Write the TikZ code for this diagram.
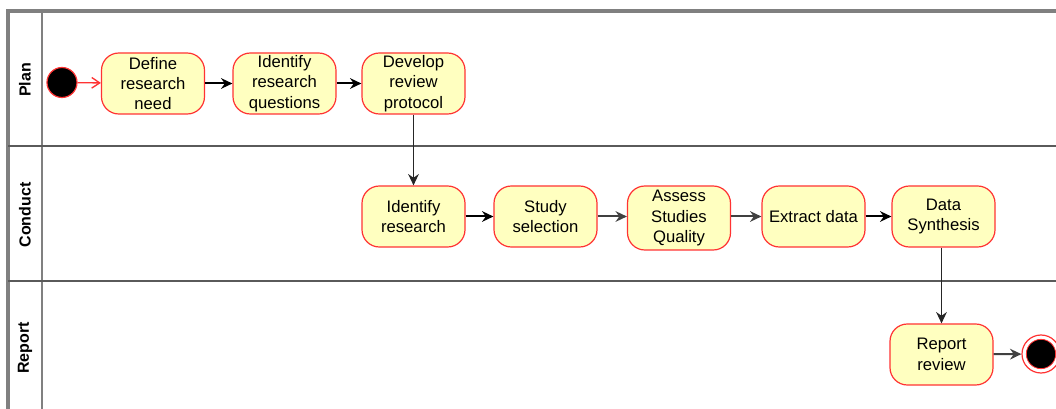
\documentclass[tikz,border=0pt]{standalone}
\usepackage{fontspec}
\setmainfont{Liberation Sans}
\usetikzlibrary{arrows.meta}
\definecolor{actfill}{HTML}{FFFFC0}
\definecolor{actline}{HTML}{FF3333}
\definecolor{lanegray}{HTML}{808080}
\definecolor{lanedark}{HTML}{5A5A5A}
\begin{document}
\begin{tikzpicture}[x=0.75pt,y=-0.75pt,
  act/.style={draw=actline,fill=actfill,line width=0.9pt,rounded corners=13pt,
    minimum width=77.25pt,minimum height=45.75pt,inner sep=1pt,align=center,
    font=\fontsize{12.5}{15.3}\selectfont},
  flow/.style={-{Stealth[length=8.5pt,width=8pt]},line width=1.5pt,black},
  flowg/.style={-{Stealth[length=8.5pt,width=8pt]},line width=1.5pt,black!75},
  flowv/.style={-{Stealth[length=8.5pt,width=8pt]},line width=1pt,black!85},
  lane/.style={font=\bfseries\fontsize{12}{14}\selectfont,rotate=90},
  border/.style={lanegray,line width=2.6pt},
  divider/.style={lanedark,line width=2.2pt},
  header/.style={lanegray,line width=1.6pt}]
\useasboundingbox (0,0) rectangle (1056,409);
% swimlanes
\draw[border] (8,409) -- (8,11) -- (1056,11);
\draw[header] (42,11) -- (42,409);
\draw[divider] (8,146) -- (1056,146);
\draw[divider] (8,281) -- (1056,281);
\node[lane] (lplan) at (25,80) {Plan};
\node[lane] (lcond) at (25,215) {Conduct};
\node[lane] (lrep) at (25,348) {Report};
% start
\node[circle,draw=actline,fill=black,line width=0.9pt,minimum size=22.5pt,inner sep=0pt] (start) at (62,82.5) {};
% activities
\node[act] (define) at (153,83.5) {Define\\research\\need};
\node[act] (ident) at (284.5,83.5) {Identify\\research\\questions};
\node[act] (develop) at (413.5,83.5) {Develop\\review\\protocol};
\node[act] (idres) at (413.5,216.5) {Identify\\research};
\node[act] (study) at (545.5,216.5) {Study\\selection};
\node[act,minimum height=48pt] (assess) at (679,218) {Assess\\Studies\\Quality};
\node[act] (extract) at (813.5,216.5) {Extract data};
\node[act] (synth) at (943.5,216.5) {Data\\Synthesis};
\node[act] (report) at (941.5,354.5) {Report\\review};
% end
\node[circle,draw=actline,fill=white,line width=0.9pt,minimum size=28.5pt,inner sep=0pt] (endo) at (1041,354) {};
\node[circle,draw=actline,fill=black,line width=0.6pt,minimum size=22pt,inner sep=0pt] (endi) at (endo.center) {};
% flows
\draw[actline,line width=1pt,-{Straight Barb[length=6pt,width=8pt]}] (start) -- (define);
\draw[flow] (define) -- (ident);
\draw[flow] (ident) -- (develop);
\draw[flowv] (develop) -- (idres);
\draw[flow] (idres) -- (study);
\draw[flowg] (study) -- (assess.west |- study.east);
\draw[flowg] (assess.east |- extract.west) -- (extract);
\draw[flow] (extract) -- (synth);
\draw[flowv] (synth.south -| report.north) -- (report);
\draw[flowg] (report) -- (endo);
\end{tikzpicture}
\end{document}
